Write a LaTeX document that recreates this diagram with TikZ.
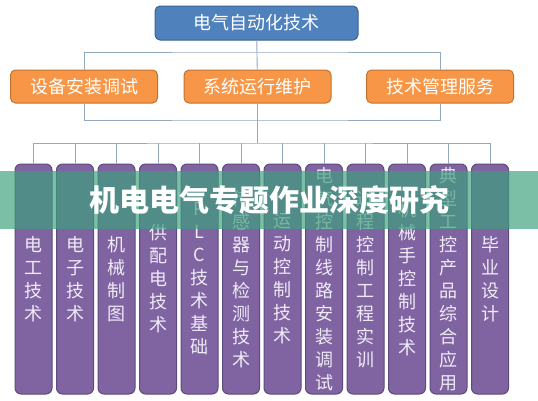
\documentclass[tikz,border=0pt]{standalone}
\usepackage{fontspec}
\newfontfamily\cjk{Noto Sans CJK SC}
\definecolor{rootblue}{HTML}{4F81BD}
\definecolor{rootedge}{HTML}{3A6493}
\definecolor{areaorange}{HTML}{F79646}
\definecolor{areaedge}{HTML}{C0732F}
\definecolor{coursepurple}{HTML}{8064A2}
\definecolor{courseedge}{HTML}{5E4A7C}
\definecolor{coursetext}{HTML}{F0EAF7}
\definecolor{linkgray}{HTML}{93A9BF}
\definecolor{bannergreen}{RGB}{60,160,124}

\begin{document}
\begin{tikzpicture}[
    x=1pt, y=-1pt,
    link/.style={draw=linkgray, line width=0.9pt},
    rootbox/.style={draw=rootedge, fill=rootblue, line width=1pt, rounded corners=5pt,
        minimum width=203pt, minimum height=34pt, inner sep=0pt, text=white,
        font=\cjk\fontsize{18}{20}\selectfont},
    areabox/.style={draw=areaedge, fill=areaorange, line width=1pt, rounded corners=5pt,
        minimum width=147pt, minimum height=33pt, inner sep=0pt, text=white,
        font=\cjk\fontsize{18}{20}\selectfont},
    coursebox/.style={draw=courseedge, fill=coursepurple, line width=1pt, rounded corners=6pt,
        minimum width=37pt, minimum height=230pt, inner sep=0pt, align=center,
        text=coursetext, font=\cjk\fontsize{18}{23}\selectfont},
    banner/.style={fill=bannergreen, fill opacity=0.68, text opacity=1,
        minimum width=538pt, minimum height=58pt, inner sep=0pt, text=white,
        font=\cjk\bfseries\fontsize{30}{32}\selectfont}
]
\useasboundingbox (0,0) rectangle (538,400);

% top and second level
\node[rootbox] (root) at (256.5,23) {电气自动化技术};
\node[areabox] (m1) at (84,86.5) {设备安装调试};
\node[areabox] (m2) at (257.5,86.5) {系统运行维护};
\node[areabox] (m3) at (440,86.5) {技术管理服务};

% courses
\foreach \txt [count=\i] in {
    {电\\工\\技\\术},
    {电\\子\\技\\术},
    {机\\械\\制\\图},
    {供\\配\\电\\技\\术},
    {P\\L\\C\\技\\术\\基\\础},
    {传\\感\\器\\与\\检\\测\\技\\术},
    {运\\动\\控\\制\\技\\术},
    {电\\气\\控\\制\\线\\路\\安\\装\\调\\试},
    {过\\程\\控\\制\\工\\程\\实\\训},
    {机\\械\\手\\控\\制\\技\\术},
    {典\\型\\工\\控\\产\\品\\综\\合\\应\\用},
    {毕\\业\\设\\计}}
    \node[coursebox] (p\i) at ({33.5+(\i-1)*41.5},279) {\txt};

% connectors
\coordinate (busa) at (257.5,52);
\coordinate (busb) at (257.5,120);
\coordinate (busc) at (257.5,143);
\draw[link] (root) -- (m2);
\draw[link] (m1.north) |- (busa) -| (m3.north);
\draw[link] (m1.south) |- (busb) -| (m3.south);
\draw[link] (m2.south) -- (busc);
\draw[link] (p1.north) |- (busc) -| (p12.north);
\foreach \i in {2,...,11}
    \draw[link] (p\i.north) -- (p\i.north |- busc);

% overlay title
\node[banner] (title) at (269,200) {机电电气专题作业深度研究};
\end{tikzpicture}
\end{document}
